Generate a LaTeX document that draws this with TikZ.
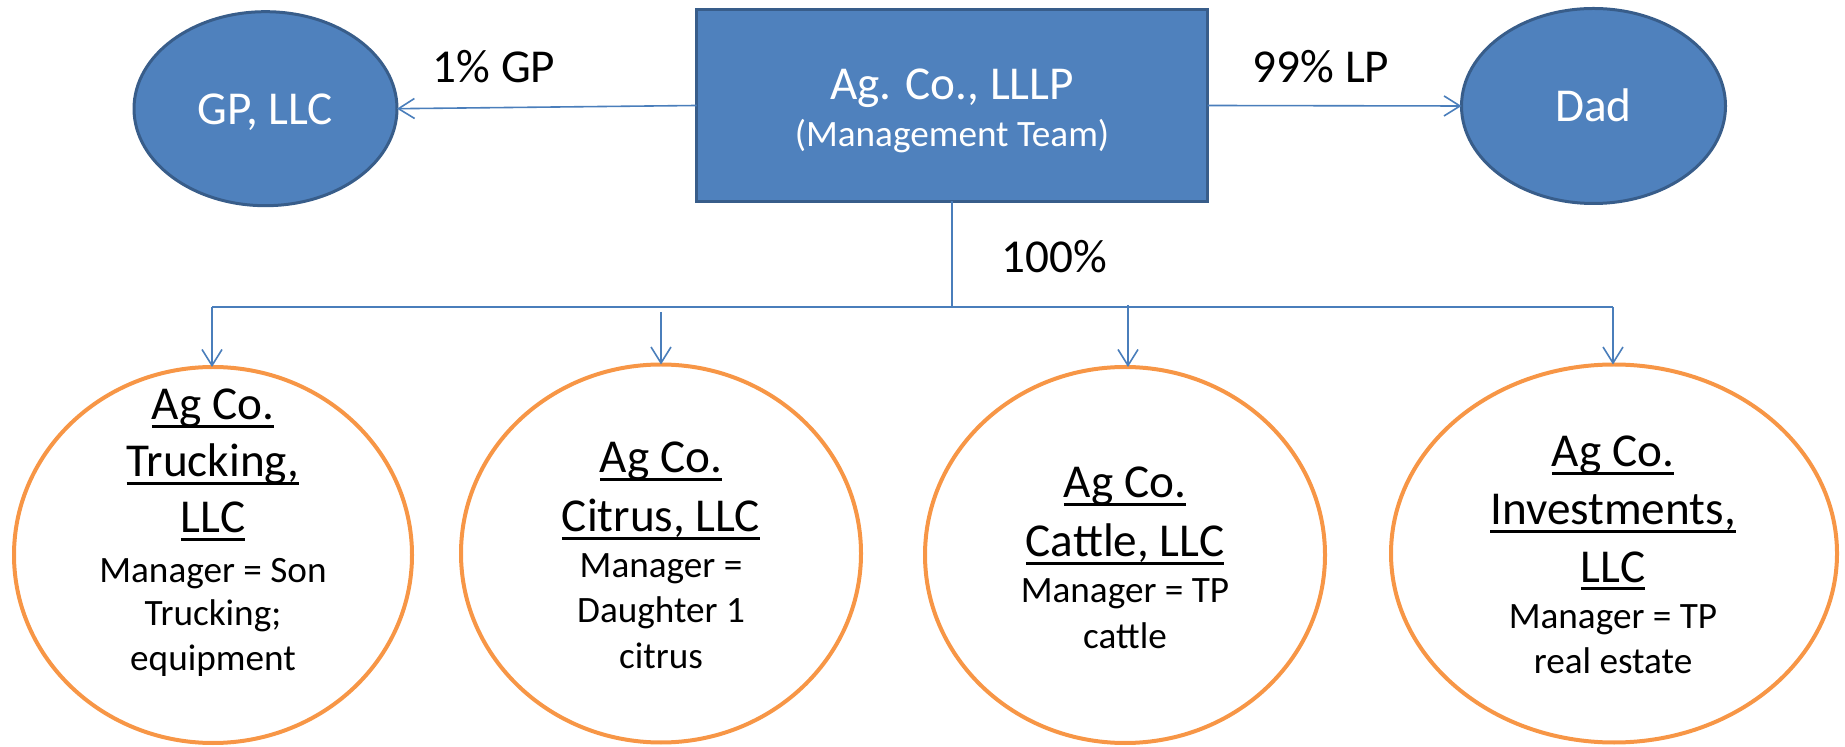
\documentclass[tikz,border=0pt]{standalone}
\usepackage{fontspec}
\setmainfont{Carlito}
\usetikzlibrary{shapes.geometric,arrows.meta}
\definecolor{ofblue}{HTML}{4F81BD}
\definecolor{ofborder}{HTML}{385D8A}
\definecolor{oforange}{HTML}{F79646}
\definecolor{conn}{HTML}{4A7EBB}
\newcommand\myul[1]{\setbox0\hbox{#1}\rlap{\rule[-3.8pt]{\wd0}{1.15pt}}\box0}
\tikzset{
  bigtxt/.style={font=\fontsize{23.6}{28}\selectfont},
  smalltxt/.style={font=\fontsize{18.6}{22}\selectfont},
  lbl/.style={anchor=base, inner sep=0pt, outer sep=0pt},
  blueell/.style={ellipse, draw=ofborder, fill=ofblue, line width=1.5pt, inner sep=0pt, outer sep=0pt},
  orangeell/.style={ellipse, draw=oforange, line width=2pt, inner sep=0pt, outer sep=0pt},
  mainbox/.style={rectangle, draw=ofborder, fill=ofblue, line width=1.5pt, inner sep=0pt, outer sep=0pt},
  connline/.style={draw=conn, line width=1pt},
  connarrow/.style={draw=conn, line width=0.8pt, -{Straight Barb[length=8pt,width=10pt,line width=0.8pt]}},
}
\begin{document}
\begin{tikzpicture}[x=0.5pt,y=-0.5pt]
\useasboundingbox (0,0) rectangle (1845,747);
% top shapes
\node[mainbox, minimum width=255.5pt, minimum height=96pt] (box) at (952,105.5) {};
\node[blueell, minimum width=131.5pt, minimum height=97pt] (gp) at (265.5,108.7) {};
\node[blueell, minimum width=132pt, minimum height=97.5pt] (dad) at (1593.5,106) {};
% bottom ellipses
\node[orangeell, minimum width=199pt, minimum height=188pt] (e1) at (213,555) {};
\node[orangeell, minimum width=200pt, minimum height=189pt] (e2) at (661,553.5) {};
\node[orangeell, minimum width=200pt, minimum height=188pt] (e3) at (1125,555) {};
\node[orangeell, minimum width=223pt, minimum height=189pt] (e4) at (1614,553.5) {};
% top texts
\node[lbl, bigtxt, text=white] (boxt1) at (952,100) {Ag. Co., LLLP};
\node[lbl, smalltxt, text=white] (boxt2) at (952,147) {(Management Team)};
\node[lbl, bigtxt, text=white] (gpt) at (265.5,125) {GP, LLC};
\node[lbl, bigtxt, text=white] (dadt) at (1593.5,122) {Dad};
\node[lbl, bigtxt] (gplab) at (494,83) {1\% GP};
\node[lbl, bigtxt] (lplab) at (1321,83) {99\% LP};
\node[lbl, bigtxt] (pctlab) at (1054.5,273) {100\%};
% connectors
\coordinate (busL) at (212,307);
\coordinate (busR) at (1613,307);
\coordinate (busM) at (952,307);
\coordinate (a2) at (661,312);
\coordinate (a3) at (1128,305);
\draw[connarrow] (box.west) -- (gp.east);
\draw[connarrow] (box.east) -- (dad.west);
\draw[connline] (box.south) -- (busM);
\draw[connline] (busL) -- (busR);
\draw[connarrow] (busL) -- (busL |- e1.north);
\draw[connarrow] (a2) -- (e2.north);
\draw[connarrow] (a3) -- (a3 |- e3.north);
\draw[connarrow] (busR) -- (busR |- e4.north);
% ellipse 1 text
\node[lbl, bigtxt] (t1a) at (213,420) {\myul{Ag Co.}};
\node[lbl, bigtxt] (t1b) at (213,477) {\myul{Trucking,}};
\node[lbl, bigtxt] (t1c) at (213,533) {\myul{LLC}};
\node[lbl, smalltxt] (t1d) at (213,582) {Manager = Son};
\node[lbl, smalltxt] (t1e) at (213,625) {Trucking;};
\node[lbl, smalltxt] (t1f) at (213,670) {equipment};
% ellipse 2 text
\node[lbl, bigtxt] (t2a) at (661,473) {\myul{Ag Co.}};
\node[lbl, bigtxt] (t2b) at (661,532) {\myul{Citrus, LLC}};
\node[lbl, smalltxt] (t2c) at (661,578) {Manager =};
\node[lbl, smalltxt] (t2d) at (661,623) {Daughter 1};
\node[lbl, smalltxt] (t2e) at (661,668) {citrus};
% ellipse 3 text
\node[lbl, bigtxt] (t3a) at (1125,498) {\myul{Ag Co.}};
\node[lbl, bigtxt] (t3b) at (1125,557) {\myul{Cattle, LLC}};
\node[lbl, smalltxt] (t3c) at (1125,603) {Manager = TP};
\node[lbl, smalltxt] (t3d) at (1125,648) {cattle};
% ellipse 4 text
\node[lbl, bigtxt] (t4a) at (1613,467) {\myul{Ag Co.}};
\node[lbl, bigtxt] (t4b) at (1613,525) {\myul{Investments,}};
\node[lbl, bigtxt] (t4c) at (1613,582) {\myul{LLC}};
\node[lbl, smalltxt] (t4d) at (1613,628) {Manager = TP};
\node[lbl, smalltxt] (t4e) at (1613,673) {real estate};
\end{tikzpicture}
\end{document}
